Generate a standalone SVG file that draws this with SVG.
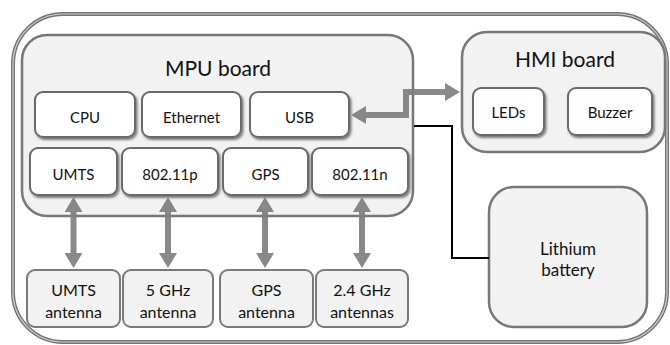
<svg xmlns="http://www.w3.org/2000/svg" width="670" height="345" viewBox="0 0 670 345">
  <defs>
    <style>
      text { font-family: Lato, "Open Sans", "Liberation Sans", sans-serif; fill: #111; text-anchor: middle; }
      .title { font-size: 21px; }
      .lbl { font-size: 15px; }
      .ant { font-size: 16px; }
      .bat { font-size: 17px; }
      .board { fill: #f2f2f2; stroke: #777; stroke-width: 2.5; }
      .chip { fill: #fff; stroke: #6a6a6a; stroke-width: 2; filter: url(#shadow); }
      .antbox { fill: #f2f2f2; stroke: #7a7a7a; stroke-width: 2; }
      .bus { fill: none; stroke: #7f7f7f; stroke-width: 6; marker-start: url(#head); marker-end: url(#head); }
      .wire { fill: none; stroke: #000; stroke-width: 2; }
    </style>
    <filter id="shadow" x="-20%" y="-20%" width="140%" height="150%">
      <feDropShadow dx="1.5" dy="2" stdDeviation="1.2" flood-color="#000" flood-opacity="0.5"/>
    </filter>
    <marker id="head" viewBox="0 0 15 18" refX="1" refY="9" markerWidth="15" markerHeight="18" markerUnits="userSpaceOnUse" orient="auto-start-reverse">
      <path d="M0,0 L15,9 L0,18 z" fill="#7f7f7f"/>
    </marker>
  </defs>

  <!-- enclosure -->
  <g id="enclosure">
    <rect x="13" y="14" width="654" height="328" rx="50" fill="#fff" stroke="#747474" stroke-width="4"/>
    <rect x="13" y="14" width="654" height="328" rx="50" fill="none" stroke="#cfcfcf" stroke-width="1.2"/>
  </g>

  <!-- MPU board -->
  <g id="mpu-board">
    <rect class="board" x="22" y="35" width="391" height="181" rx="25"/>
    <text class="title" x="218" y="76">MPU board</text>
  </g>
  <g id="cpu"><rect class="chip" x="35" y="92" width="100" height="45" rx="8"/><text class="lbl" x="85" y="123">CPU</text></g>
  <g id="ethernet"><rect class="chip" x="142" y="92" width="99" height="45" rx="8"/><text class="lbl" x="191.5" y="123">Ethernet</text></g>
  <g id="usb"><rect class="chip" x="250" y="92" width="99" height="45" rx="8"/><text class="lbl" x="299.5" y="123">USB</text></g>
  <g id="umts"><rect class="chip" x="30" y="148" width="87" height="47" rx="8"/><text class="lbl" x="73.5" y="180">UMTS</text></g>
  <g id="wifi-p"><rect class="chip" x="122" y="148" width="96" height="47" rx="8"/><text class="lbl" x="170" y="180">802.11p</text></g>
  <g id="gps"><rect class="chip" x="223" y="148" width="85" height="47" rx="8"/><text class="lbl" x="265.5" y="180">GPS</text></g>
  <g id="wifi-n"><rect class="chip" x="312" y="148" width="96" height="47" rx="8"/><text class="lbl" x="360" y="180">802.11n</text></g>

  <!-- HMI board -->
  <g id="hmi-board">
    <rect class="board" x="462" y="32" width="203" height="120" rx="25"/>
    <text class="title" x="565" y="67">HMI board</text>
  </g>
  <g id="leds"><rect class="chip" x="473" y="88" width="71" height="47" rx="8"/><text class="lbl" x="508.5" y="118">LEDs</text></g>
  <g id="buzzer"><rect class="chip" x="568" y="88" width="84" height="47" rx="8"/><text class="lbl" x="610" y="118">Buzzer</text></g>

  <!-- battery -->
  <g id="battery">
    <rect class="board" x="489" y="187" width="158" height="140" rx="25"/>
    <text class="bat" x="568" y="255">Lithium</text>
    <text class="bat" x="568" y="276">battery</text>
  </g>

  <!-- antennas -->
  <g id="umts-antenna"><rect class="antbox" x="27" y="270" width="93" height="57" rx="8"/><text class="ant" x="73.5" y="296">UMTS</text><text class="ant" x="73.5" y="318">antenna</text></g>
  <g id="antenna-5ghz"><rect class="antbox" x="123" y="270" width="90" height="57" rx="8"/><text class="ant" x="168" y="296">5 GHz</text><text class="ant" x="168" y="318">antenna</text></g>
  <g id="gps-antenna"><rect class="antbox" x="220" y="270" width="93" height="57" rx="8"/><text class="ant" x="266.5" y="296">GPS</text><text class="ant" x="266.5" y="318">antenna</text></g>
  <g id="antennas-24ghz"><rect class="antbox" x="316" y="270" width="92" height="57" rx="8"/><text class="ant" x="362" y="296">2.4 GHz</text><text class="ant" x="362" y="318">antennas</text></g>

  <!-- connectors -->
  <g id="connectors">
    <polyline class="wire" points="414,126 452,126 452,258 489,258"/>
    <g opacity="0.92">
      <line class="bus" x1="73.5" y1="211" x2="73.5" y2="254"/>
      <line class="bus" x1="168" y1="211" x2="168" y2="254"/>
      <line class="bus" x1="265" y1="211" x2="265" y2="254"/>
      <line class="bus" x1="362" y1="211" x2="362" y2="254"/>
      <polyline class="bus" points="365,115 406,115 406,92 446,92"/>
    </g>
  </g>
</svg>
